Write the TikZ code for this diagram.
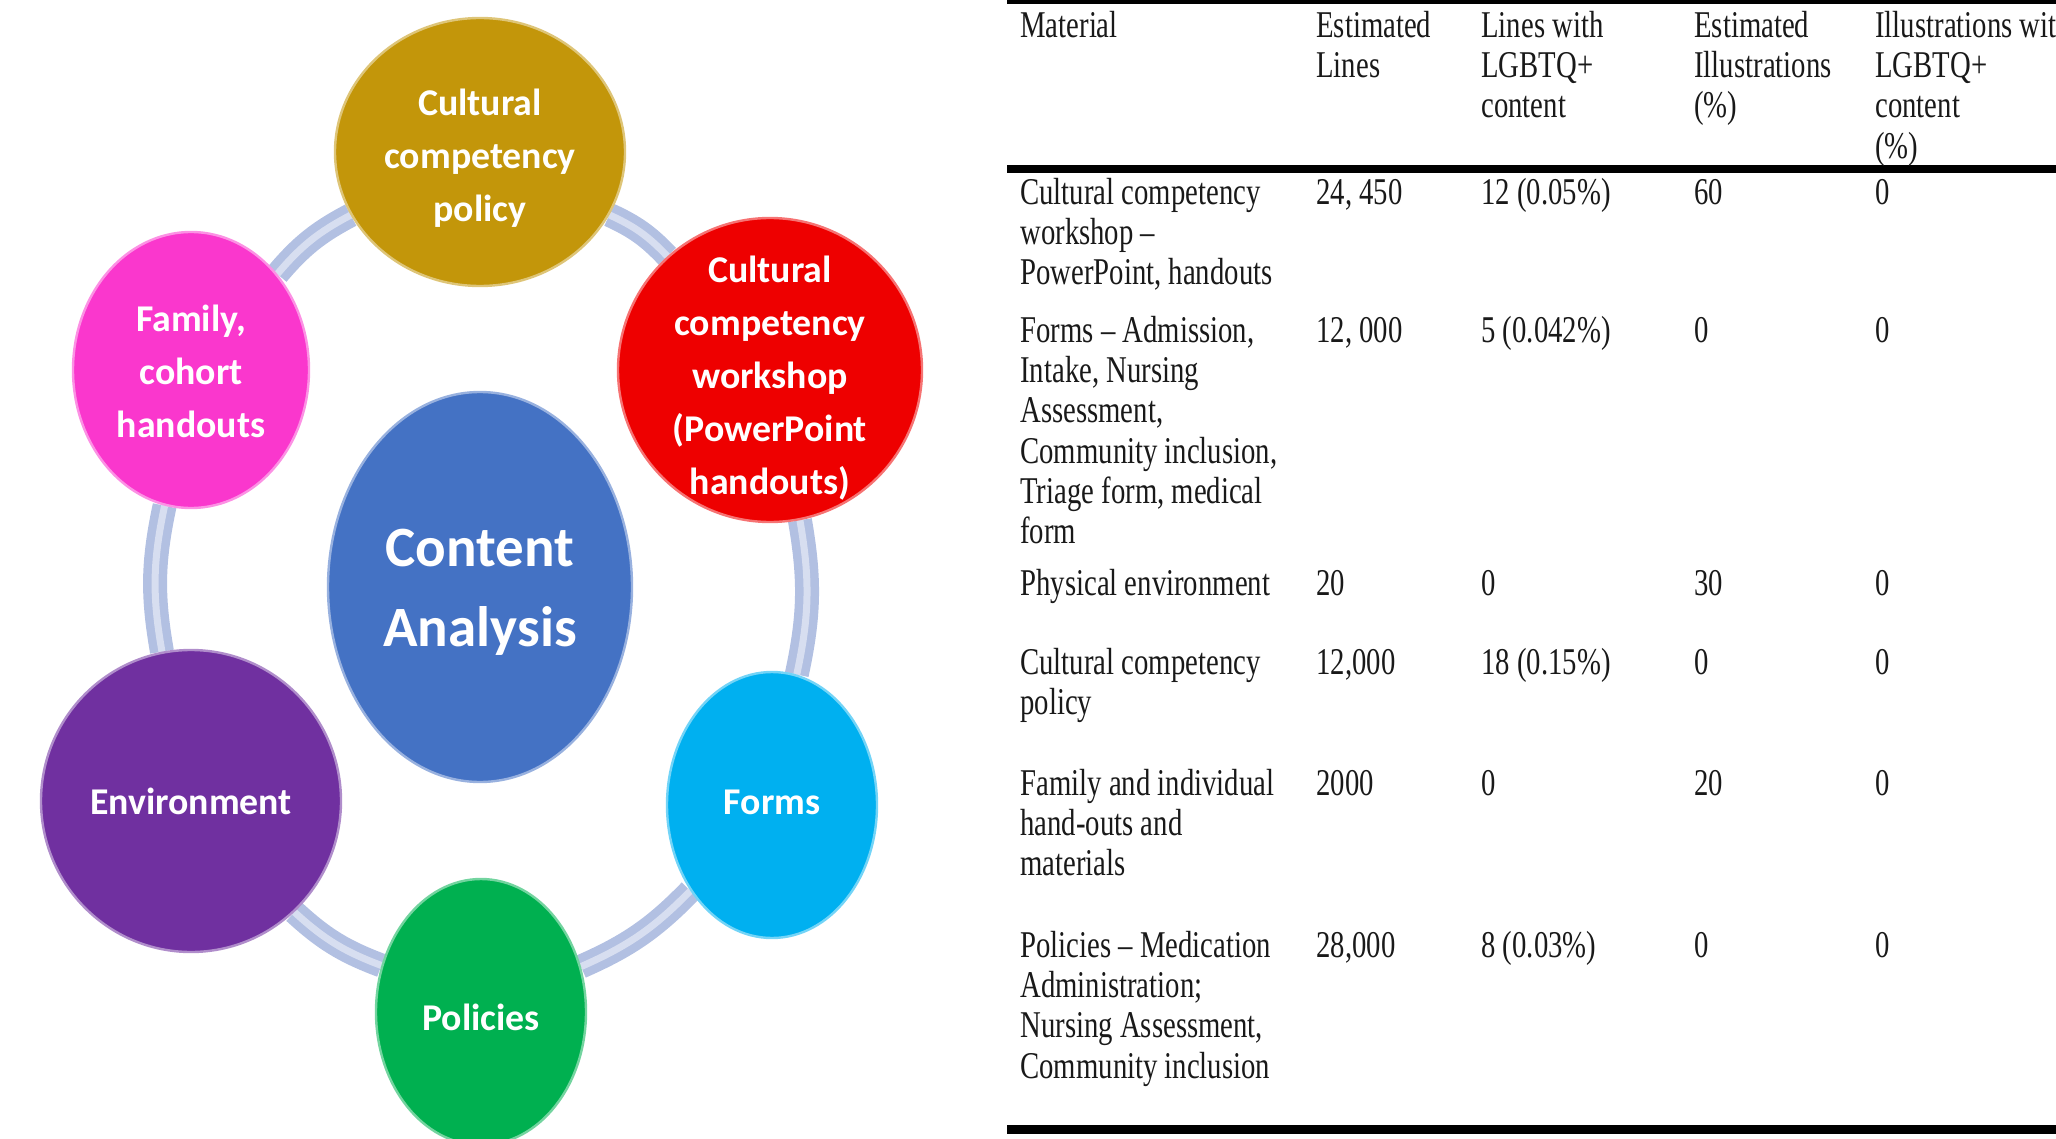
\documentclass[tikz,border=0pt]{standalone}
\usepackage{fontspec}
\setmainfont{Liberation Serif}
\newfontfamily\ballfont{Carlito}
\newfontfamily\tabfont{Liberation Serif}[FakeStretch=0.76]
\usetikzlibrary{shapes.geometric}
\pgfdeclarelayer{bg}
\pgfsetlayers{bg,main}
\definecolor{cgold}{RGB}{195,150,10}
\definecolor{cred}{RGB}{238,0,0}
\definecolor{cpink}{RGB}{250,55,205}
\definecolor{cblue}{RGB}{68,114,196}
\definecolor{cpurple}{RGB}{112,48,160}
\definecolor{ccyan}{RGB}{0,176,240}
\definecolor{cgreen}{RGB}{0,176,80}
\definecolor{cconn}{RGB}{178,192,226}
\definecolor{cconnhi}{RGB}{215,222,240}
\definecolor{ctext}{RGB}{25,25,25}
\tikzset{
  ball/.style={ellipse, draw=#1!55!white, line width=1.2pt, fill=#1, inner sep=0pt},
  smalltxt/.style={text=white, align=center, inner sep=0pt,
    font=\ballfont\bfseries\fontsize{18.9}{26.5}\selectfont},
  bigtxt/.style={text=white, align=center, inner sep=0pt,
    font=\ballfont\bfseries\fontsize{28.5}{40}\selectfont},
  conn/.style={draw=cconn, line width=12pt,
    postaction={draw=cconnhi, line width=3.5pt}},
  cell/.style={anchor=north west, inner sep=0pt, align=left, text=ctext,
    font=\tabfont\fontsize{18.9}{20.1}\selectfont},
  tabrule/.style={draw=black, line width=#1},
}
\begin{document}
\begin{tikzpicture}[x=0.5pt,y=-0.5pt]
\useasboundingbox (0,0) rectangle (2056,1139);
\begin{scope}
\clip (0,0) rectangle (2056,1139);
% circles
\node[ball=cgold, minimum width=145pt, minimum height=134pt] (gold) at (480,152) {};
\node[ball=cred, minimum width=152pt, minimum height=152pt] (red) at (770,370) {};
\node[ball=cpink, minimum width=118pt, minimum height=138pt] (family) at (191,370) {};
\node[ball=cblue, minimum width=152pt, minimum height=195pt] (center) at (480,587) {};
\node[ball=cpurple, minimum width=150pt, minimum height=151pt] (env) at (191,801) {};
\node[ball=ccyan, minimum width=105pt, minimum height=133pt] (forms) at (772,805) {};
\node[ball=cgreen, minimum width=105pt, minimum height=133pt] (policies) at (481,1012) {};
% circle texts
\node[smalltxt] (goldt) at (480,158) {Cultural\\competency\\policy};
\node[smalltxt] (redt) at (770,378) {Cultural\\competency\\workshop\\(PowerPoint\\handouts)};
\node[smalltxt] (familyt) at (191,371) {Family,\\cohort\\handouts};
\node[bigtxt] (centert) at (480,592) {Content\\Analysis};
\node[smalltxt] (envt) at (191,801) {Environment};
\node[smalltxt] (formst) at (772,802) {Forms};
\node[smalltxt] (policiest) at (481,1017) {Policies};
% table rules
\draw[tabrule=4pt] (1007,0) -- (2056,0);
\draw[tabrule=4pt] (1007,169) -- (2056,169);
\draw[tabrule=4.5pt] (1007,1129) -- (2056,1129);
% header
\node[cell] (h1) at (1020,9) {\strut Material};
\node[cell] (h2) at (1316,9) {\strut Estimated\\Lines};
\node[cell] (h3) at (1481,9) {\strut Lines with\\LGBTQ+\\content};
\node[cell] (h4) at (1694,9) {\strut Estimated\\Illustrations\\(\%)};
\node[cell] (h5) at (1875,9) {\strut Illustrations wit\\LGBTQ+\\content\\(\%)};
% row 1
\node[cell] (r1a) at (1020,176) {\strut Cultural competency\\workshop –\\PowerPoint, handouts};
\node[cell] (r1b) at (1316,176) {\strut 24, 450};
\node[cell] (r1c) at (1481,176) {\strut 12 (0.05\%)};
\node[cell] (r1d) at (1694,176) {\strut 60};
\node[cell] (r1e) at (1875,176) {\strut 0};
% row 2
\node[cell] (r2a) at (1020,314) {\strut Forms – Admission,\\Intake, Nursing\\Assessment,\\Community inclusion,\\Triage form, medical\\form};
\node[cell] (r2b) at (1316,314) {\strut 12, 000};
\node[cell] (r2c) at (1481,314) {\strut 5 (0.042\%)};
\node[cell] (r2d) at (1694,314) {\strut 0};
\node[cell] (r2e) at (1875,314) {\strut 0};
% row 3
\node[cell] (r3a) at (1020,567) {\strut Physical environment};
\node[cell] (r3b) at (1316,567) {\strut 20};
\node[cell] (r3c) at (1481,567) {\strut 0};
\node[cell] (r3d) at (1694,567) {\strut 30};
\node[cell] (r3e) at (1875,567) {\strut 0};
% row 4
\node[cell] (r4a) at (1020,646) {\strut Cultural competency\\policy};
\node[cell] (r4b) at (1316,646) {\strut 12,000};
\node[cell] (r4c) at (1481,646) {\strut 18 (0.15\%)};
\node[cell] (r4d) at (1694,646) {\strut 0};
\node[cell] (r4e) at (1875,646) {\strut 0};
% row 5
\node[cell] (r5a) at (1020,767) {\strut Family and individual\\hand-outs and\\materials};
\node[cell] (r5b) at (1316,767) {\strut 2000};
\node[cell] (r5c) at (1481,767) {\strut 0};
\node[cell] (r5d) at (1694,767) {\strut 20};
\node[cell] (r5e) at (1875,767) {\strut 0};
% row 6
\node[cell] (r6a) at (1020,929) {\strut Policies – Medication\\Administration;\\Nursing Assessment,\\Community inclusion};
\node[cell] (r6b) at (1316,929) {\strut 28,000};
\node[cell] (r6c) at (1481,929) {\strut 8 (0.03\%)};
\node[cell] (r6d) at (1694,929) {\strut 0};
\node[cell] (r6e) at (1875,929) {\strut 0};
\end{scope}
\begin{pgfonlayer}{bg}
\draw[conn] (gold) to[bend left=11] (red);
\draw[conn] (red) to[bend left=11] (forms);
\draw[conn] (forms) to[bend left=11] (policies);
\draw[conn] (policies) to[bend left=11] (env);
\draw[conn] (env) to[bend left=11] (family);
\draw[conn] (family) to[bend left=11] (gold);
\end{pgfonlayer}
\end{tikzpicture}
\end{document}
